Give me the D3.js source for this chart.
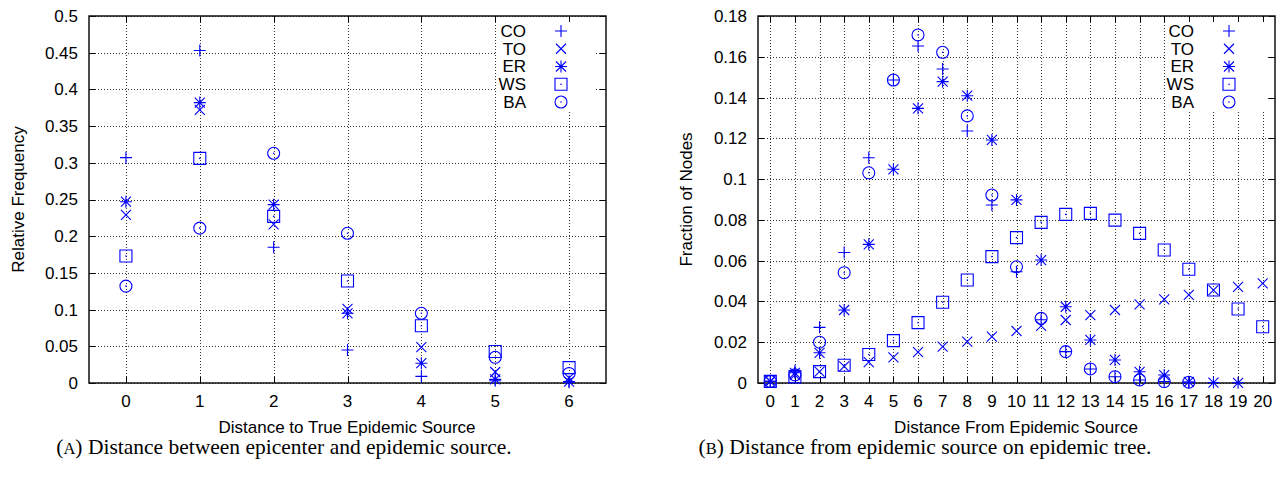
<!DOCTYPE html>
<html>
<head>
<meta charset="utf-8">
<script src="https://cdn.jsdelivr.net/npm/d3@7/dist/d3.min.js"></script>
<style>
  body { margin: 0; background: #fff; }
  svg text { font-family: 'Liberation Sans', Arial, Helvetica, sans-serif; fill: #000; }
  .grid line { stroke: #333; stroke-width: 1; stroke-dasharray: 1,2; shape-rendering: crispEdges; }
  .grid .domain { display: none; }
  .ticks line { stroke: #000; stroke-width: 1; shape-rendering: crispEdges; }
  .ticks .domain { display: none; }
  .caption { font-family: 'Liberation Serif', 'DejaVu Serif', serif !important; }
</style>
</head>
<body>
<svg id="chart" width="1280" height="480"></svg>
<script>

var series = [ 'CO', 'TO', 'ER', 'WS', 'BA' ];

// (A) distance between epicenter and epidemic source
var distA = [ 0, 1, 2, 3, 4, 5, 6 ];
var coA = [ 0.307, 0.453, 0.185, 0.045, 0.009, 0.003, 0.001 ];
var toA = [ 0.229, 0.372, 0.216, 0.101, 0.049, 0.015, 0.007 ];
var erA = [ 0.247, 0.382, 0.243, 0.095, 0.027, 0.005, 0.002 ];
var wsA = [ 0.173, 0.306, 0.227, 0.139, 0.078, 0.043, 0.021 ];
var baA = [ 0.132, 0.211, 0.313, 0.204, 0.095, 0.035, 0.013 ];
var yTicksA = [ 0, 0.05, 0.1, 0.15, 0.2, 0.25, 0.3, 0.35, 0.4, 0.45, 0.5 ];

// (B) distance from epidemic source on epidemic tree
var distB = [ 0, 1, 2, 3, 4, 5, 6, 7, 8, 9, 10, 11, 12, 13, 14, 15, 16, 17, 18, 19, 20 ];
var coB = [ 0.0008, 0.006, 0.0273, 0.064, 0.1105, 0.1486, 0.1653, 0.154, 0.1236, 0.0873, 0.0546,
            0.031, 0.0154, 0.0069, 0.0031, 0.0015, 0.0007, 0.0003, null, null, null ];
var toB = [ 0.0008, 0.004, 0.0056, 0.0082, 0.0102, 0.0126, 0.0151, 0.0178, 0.0203, 0.0227, 0.0255,
            0.028, 0.0309, 0.0333, 0.0358, 0.0386, 0.041, 0.0432, 0.0456, 0.0472, 0.0489 ];
var erB = [ 0.0008, 0.005, 0.0148, 0.0358, 0.068, 0.1048, 0.1347, 0.1478, 0.1409, 0.1192, 0.0898,
            0.0603, 0.0374, 0.0211, 0.0113, 0.0055, 0.0039, 0.0005, 0.0002, 0.0001, null ];
var wsB = [ 0.0008, 0.003, 0.0056, 0.0087, 0.014, 0.0208, 0.0296, 0.0396, 0.0505, 0.062, 0.0713,
            0.0788, 0.0827, 0.0832, 0.0799, 0.0734, 0.0652, 0.0558, 0.0456, 0.0363, 0.0276 ];
var baB = [ 0.0008, 0.004, 0.02, 0.0541, 0.1031, 0.1486, 0.1707, 0.1622, 0.131, 0.0922, 0.057,
            0.0317, 0.0154, 0.0069, 0.0031, 0.0015, 0.0007, 0.0004, null, null, null ];
var yTicksB = [ 0, 0.02, 0.04, 0.06, 0.08, 0.1, 0.12, 0.14, 0.16, 0.18 ];

var svg = d3.select( '#chart' );
var blue = '#0000ff';
var marker = { CO: 'plus', TO: 'cross', ER: 'star', WS: 'box', BA: 'circle' };

function markerPath( type ) {
  var p = 'M-6,0H6M0,-6V6',
    x = 'M-5,-5L5,5M-5,5L5,-5';
  if ( type === 'plus' ) return p;
  if ( type === 'cross' ) return x;
  if ( type === 'star' ) return p + x;
  if ( type === 'box' ) return 'M-6,-6H6V6H-6Z';
  return 'M6,0A6,6 0 1,1 -6,0A6,6 0 1,1 6,0';
}

function drawMarker( g, type ) {
  g.append( 'path' )
    .attr( 'd', markerPath( type ) )
    .attr( 'fill', 'none' )
    .attr( 'stroke', blue )
    .attr( 'stroke-width', 1.1 );
  if ( type === 'box' || type === 'circle' ) {
    g.append( 'circle' ).attr( 'r', 0.8 ).attr( 'fill', blue );
  }
}

function fmt( d ) { return d === 0 ? '0' : String( +d.toFixed( 2 ) ); }

function drawPanel( cfg ) {
  var x = d3.scaleLinear().domain( cfg.xDomain ).range( [ cfg.left, cfg.right ] );
  var y = d3.scaleLinear().domain( cfg.yDomain ).range( [ cfg.bottom, cfg.top ] );
  var w = cfg.right - cfg.left, h = cfg.bottom - cfg.top;

  var g = svg.append( 'g' );

  // dotted grid
  g.append( 'g' ).attr( 'class', 'grid' )
    .attr( 'transform', 'translate(0,' + cfg.bottom + ')' )
    .call( d3.axisBottom( x ).tickValues( cfg.xTicks ).tickSize( -h ).tickFormat( '' ) );
  g.append( 'g' ).attr( 'class', 'grid' )
    .attr( 'transform', 'translate(' + cfg.left + ',0)' )
    .call( d3.axisLeft( y ).tickValues( cfg.yTicks ).tickSize( -w ).tickFormat( '' ) );

  // key area hides the grid
  g.append( 'rect' )
    .attr( 'x', cfg.key.x0 ).attr( 'y', cfg.top + 1 )
    .attr( 'width', cfg.key.x1 - cfg.key.x0 ).attr( 'height', cfg.key.y1 - cfg.top - 1 )
    .attr( 'fill', '#fff' );

  // inward ticks on all four sides
  g.append( 'g' ).attr( 'class', 'ticks' )
    .attr( 'transform', 'translate(0,' + cfg.bottom + ')' )
    .call( d3.axisBottom( x ).tickValues( cfg.xTicks ).tickSize( -6 ).tickFormat( '' ) );
  g.append( 'g' ).attr( 'class', 'ticks' )
    .attr( 'transform', 'translate(0,' + cfg.top + ')' )
    .call( d3.axisTop( x ).tickValues( cfg.xTicks ).tickSize( -6 ).tickFormat( '' ) );
  g.append( 'g' ).attr( 'class', 'ticks' )
    .attr( 'transform', 'translate(' + cfg.left + ',0)' )
    .call( d3.axisLeft( y ).tickValues( cfg.yTicks ).tickSize( -6 ).tickFormat( '' ) );
  g.append( 'g' ).attr( 'class', 'ticks' )
    .attr( 'transform', 'translate(' + cfg.right + ',0)' )
    .call( d3.axisRight( y ).tickValues( cfg.yTicks ).tickSize( -6 ).tickFormat( '' ) );

  g.append( 'rect' )
    .attr( 'x', cfg.left ).attr( 'y', cfg.top )
    .attr( 'width', w ).attr( 'height', h )
    .attr( 'fill', 'none' ).attr( 'stroke', '#111' ).attr( 'stroke-width', 1.5 );

  // tick labels
  g.selectAll( '.xlab' ).data( cfg.xTicks ).enter().append( 'text' )
    .attr( 'x', d => x( d ) ).attr( 'y', cfg.bottom + 24 )
    .attr( 'text-anchor', 'middle' ).style( 'font-size', '17px' )
    .text( d => d );
  g.selectAll( '.ylab' ).data( cfg.yTicks ).enter().append( 'text' )
    .attr( 'x', cfg.left - 11 ).attr( 'y', d => y( d ) ).attr( 'dy', '0.35em' )
    .attr( 'text-anchor', 'end' ).style( 'font-size', '17px' )
    .text( fmt );

  // axis titles
  g.append( 'text' )
    .attr( 'x', cfg.xTitleX ).attr( 'y', cfg.bottom + 50 )
    .attr( 'text-anchor', 'middle' ).style( 'font-size', '17px' )
    .text( cfg.xTitle );
  g.append( 'text' )
    .attr( 'transform', 'translate(' + cfg.yTitleX + ',' + ( cfg.top + h / 2 ) + ') rotate(-90)' )
    .attr( 'text-anchor', 'middle' ).attr( 'dy', '0.35em' ).style( 'font-size', '17px' )
    .text( cfg.yTitle );

  // points
  series.forEach( function ( s, k ) {
    var pts = cfg.dist.map( ( d, i ) => ( { x: d, y: cfg.values[ k ][ i ] } ) )
      .filter( d => d.y !== null );
    g.selectAll( '.pt-' + s ).data( pts ).enter().append( 'g' )
      .attr( 'class', 'pt-' + s )
      .attr( 'transform', d => 'translate(' + x( d.x ) + ',' + y( d.y ) + ')' )
      .each( function () { drawMarker( d3.select( this ), marker[ s ] ); } );
  } );

  // key
  var key = g.selectAll( '.key' ).data( series ).enter().append( 'g' )
    .attr( 'class', 'key' )
    .attr( 'transform', ( d, i ) => 'translate(0,' + ( cfg.top + 15 + i * 17.75 ) + ')' );
  key.append( 'text' )
    .attr( 'x', cfg.key.textX ).attr( 'dy', '0.35em' )
    .attr( 'text-anchor', 'end' ).style( 'font-size', '17px' )
    .text( d => d );
  key.append( 'g' )
    .attr( 'transform', 'translate(' + cfg.key.markX + ',0)' )
    .each( function ( d ) { drawMarker( d3.select( this ), marker[ d ] ); } );

  // caption
  var cap = svg.append( 'text' )
    .attr( 'class', 'caption' )
    .attr( 'x', cfg.capX ).attr( 'y', 454 )
    .attr( 'text-anchor', 'middle' ).style( 'font-size', '21.5px' );
  cap.append( 'tspan' ).text( '(' );
  cap.append( 'tspan' ).style( 'font-size', '16.5px' ).text( cfg.capTag );
  cap.append( 'tspan' ).text( ') ' + cfg.caption );
}

drawPanel( {
  left: 89, right: 606, top: 16, bottom: 383,
  xDomain: [ -0.5, 6.5 ], yDomain: [ 0, 0.5 ],
  xTicks: distA, yTicks: yTicksA, dist: distA,
  values: [ coA, toA, erA, wsA, baA ],
  key: { x0: 497, x1: 595, y1: 110, textX: 526, markX: 561 },
  xTitle: 'Distance to True Epidemic Source', xTitleX: 347,
  yTitle: 'Relative Frequency', yTitleX: 18,
  capX: 284, capTag: 'A', caption: 'Distance between epicenter and epidemic source.'
} );

drawPanel( {
  left: 758, right: 1275, top: 16, bottom: 383,
  xDomain: [ -0.5, 20.5 ], yDomain: [ 0, 0.18 ],
  xTicks: distB, yTicks: yTicksB, dist: distB,
  values: [ coB, toB, erB, wsB, baB ],
  key: { x0: 1166, x1: 1268, y1: 110, textX: 1194, markX: 1229 },
  xTitle: 'Distance From Epidemic Source', xTitleX: 1016,
  yTitle: 'Fraction of Nodes', yTitleX: 686,
  capX: 925, capTag: 'B', caption: 'Distance from epidemic source on epidemic tree.'
} );

</script>
</body>
</html>
